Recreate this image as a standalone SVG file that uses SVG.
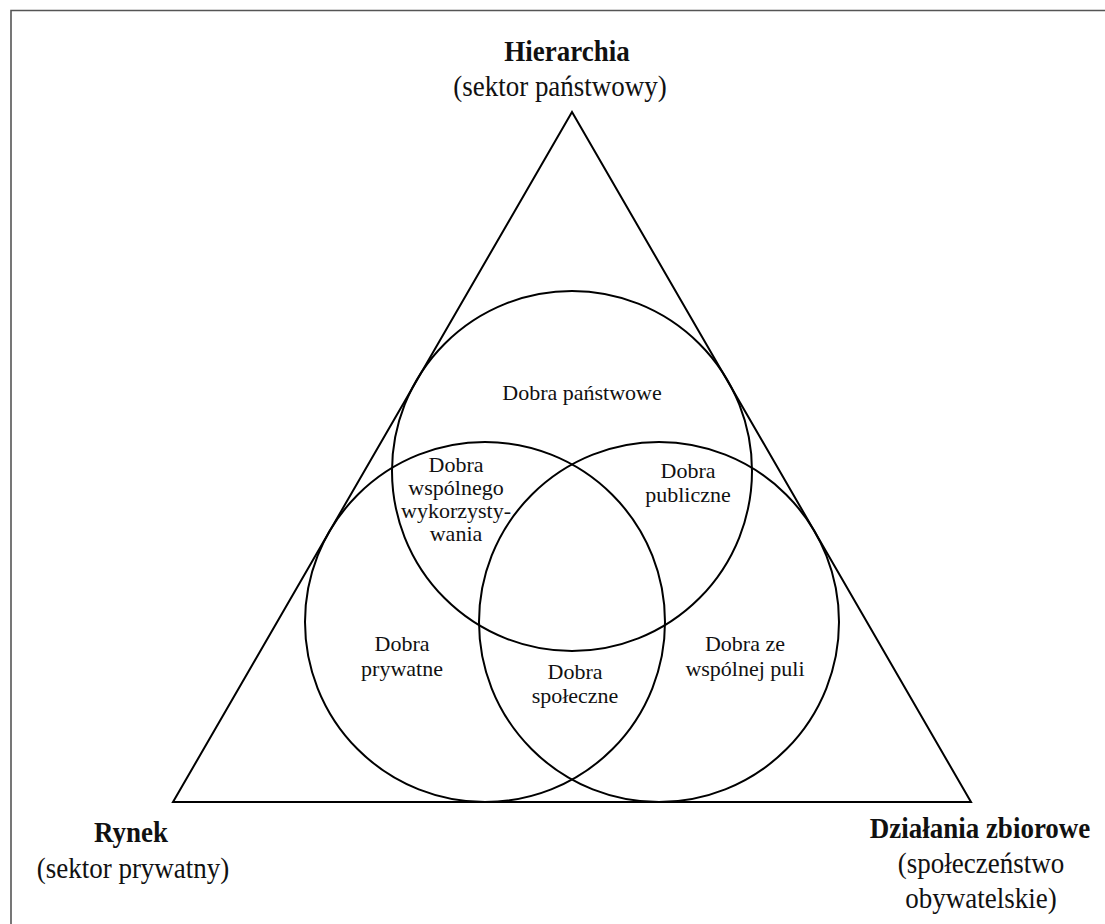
<svg xmlns="http://www.w3.org/2000/svg" width="1105" height="924" viewBox="0 0 1105 924">
<style>
.shape{fill:none;stroke:#000;stroke-width:2}
.frame{fill:none;stroke:#555;stroke-width:1.6}
text{font-family:'Liberation Serif','Times New Roman',serif;fill:#111;text-anchor:middle}
.lbl{font-size:22px}
.big{font-size:27px}
.b{font-weight:bold}
</style>
<rect width="1105" height="924" fill="#fff"/>
<path class="frame" d="M11,924 V10.5 H1105"/>
<g id="triangle"><polygon class="shape" points="572,112 173,802 971,802"/></g>
<g id="circle-top"><circle class="shape" cx="572" cy="471" r="180"/></g>
<g id="circle-left"><circle class="shape" cx="485" cy="622" r="180"/></g>
<g id="circle-right"><circle class="shape" cx="659" cy="622" r="180"/></g>
<g id="connectors"></g>
<g id="label-hierarchia">
<text class="big b" transform="translate(567,61) scale(1,1.1)">Hierarchia</text>
<text class="big" transform="translate(560,96) scale(1,1.1)">(sektor państwowy)</text>
</g>
<g id="label-rynek">
<text class="big b" transform="translate(131,842) scale(1,1.1)">Rynek</text>
<text class="big" transform="translate(133,878) scale(1,1.1)">(sektor prywatny)</text>
</g>
<g id="label-dzialania">
<text class="big b" transform="translate(980,838) scale(1,1.1)">Działania zbiorowe</text>
<text class="big" transform="translate(981,873) scale(1,1.1)">(społeczeństwo</text>
<text class="big" transform="translate(981,908) scale(1,1.1)">obywatelskie)</text>
</g>
<g id="r-panstwowe"><text class="lbl" x="582" y="400">Dobra państwowe</text></g>
<g id="r-wspolne">
<text class="lbl" x="456" y="472">Dobra</text>
<text class="lbl" x="456" y="495">wspólnego</text>
<text class="lbl" x="456" y="518">wykorzysty-</text>
<text class="lbl" x="456" y="541">wania</text>
</g>
<g id="r-publiczne">
<text class="lbl" x="688" y="478">Dobra</text>
<text class="lbl" x="688" y="502">publiczne</text>
</g>
<g id="r-prywatne">
<text class="lbl" x="402" y="651">Dobra</text>
<text class="lbl" x="402" y="676">prywatne</text>
</g>
<g id="r-spoleczne">
<text class="lbl" x="575" y="679">Dobra</text>
<text class="lbl" x="575" y="703">społeczne</text>
</g>
<g id="r-pula">
<text class="lbl" x="745" y="651">Dobra ze</text>
<text class="lbl" x="745" y="676">wspólnej puli</text>
</g>
</svg>
